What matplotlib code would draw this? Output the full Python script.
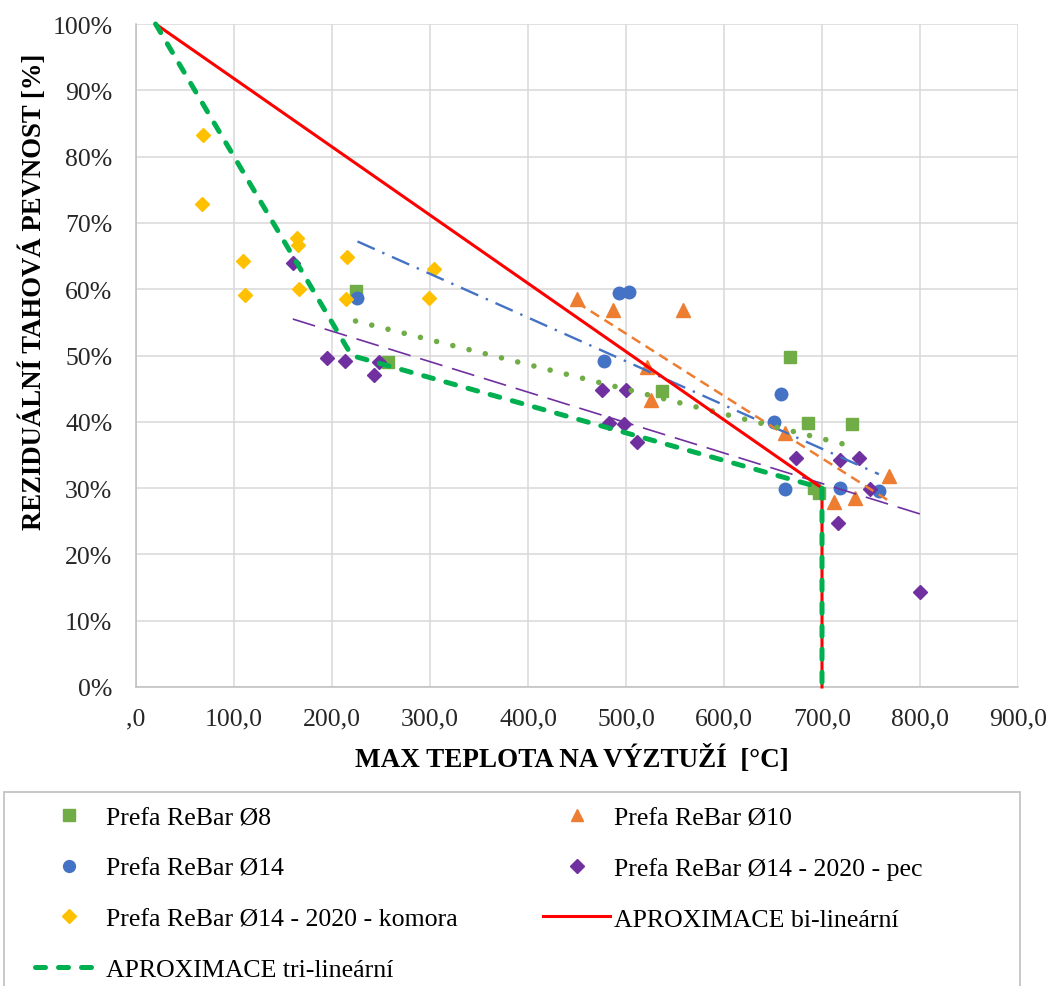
import matplotlib
matplotlib.use("Agg")
import matplotlib.pyplot as plt
from matplotlib.lines import Line2D
from matplotlib.patches import Rectangle

# ---------------- data ----------------
x_ticks = [0, 100, 200, 300, 400, 500, 600, 700, 800, 900]
x_tick_labels = [",0", "100,0", "200,0", "300,0", "400,0", "500,0", "600,0", "700,0", "800,0", "900,0"]
y_ticks = [0, 10, 20, 30, 40, 50, 60, 70, 80, 90, 100]
y_tick_labels = [f"{v}%" for v in y_ticks]

d8_x = [224, 257, 537, 667, 686, 731, 692, 697]
d8_y = [59.7, 49.0, 44.6, 49.7, 39.8, 39.6, 30.0, 29.2]

d10_x = [450, 487, 558, 521, 525, 662, 768, 712, 734]
d10_y = [58.5, 56.9, 56.9, 48.3, 43.3, 38.3, 31.9, 27.9, 28.5]

d14_x = [226, 493, 503, 478, 658, 651, 662, 718, 758]
d14_y = [58.6, 59.5, 59.6, 49.2, 44.2, 39.9, 29.9, 30.0, 29.6]

pec_x = [160, 195, 213, 248, 243, 476, 500, 483, 498, 511, 673, 718, 738, 749, 716, 800]
pec_y = [64.0, 49.6, 49.2, 49.0, 47.0, 44.8, 44.8, 39.8, 39.7, 37.0, 34.5, 34.3, 34.6, 29.9, 24.7, 14.4]

kom_x = [68, 67, 109, 111, 164, 165, 166, 215, 214, 304, 299]
kom_y = [83.3, 72.8, 64.3, 59.1, 67.7, 66.6, 60.1, 64.9, 58.5, 63.1, 58.7]

# linear trend lines (endpoints)
tr14_x, tr14_y = [226, 758], [67.2, 32.1]
tr10_x, tr10_y = [450, 768], [58.0, 28.1]
tr8_x, tr8_y = [224, 731], [55.2, 36.3]
trpec_x, trpec_y = [160, 800], [55.5, 26.1]

# approximations
bi_x, bi_y = [20, 700, 700], [100, 30, 0]
tri_x, tri_y = [20, 220, 700, 700], [100, 50, 30, 0]

labels = ["Prefa ReBar Ø8", "Prefa ReBar Ø10", "Prefa ReBar Ø14",
          "Prefa ReBar Ø14 - 2020 - pec", "Prefa ReBar Ø14 - 2020 - komora",
          "APROXIMACE bi-lineární", "APROXIMACE tri-lineární"]

# ---------------- style ----------------
C8, C10, C14, CPEC, CKOM = "#70AD47", "#ED7D31", "#4472C4", "#7030A0", "#FFC000"
CRED, CTRI = "#FF0000", "#00B050"
SERIF = ["Liberation Serif", "DejaVu Serif"]
plt.rcParams["font.family"] = SERIF

W, H = 1052, 987
fig = plt.figure(figsize=(W / 100, H / 100), dpi=100)
x0, x1, ytop, ybot = 136, 1018, 25, 688
ax = fig.add_axes([x0 / W, 1 - ybot / H, (x1 - x0) / W, (ybot - ytop) / H])

# scatter series
ax.plot(d8_x, d8_y, ls="none", marker="s", ms=8.5, color=C8, zorder=3)
ax.plot(d10_x, d10_y, ls="none", marker="^", ms=10, color=C10, zorder=3)
ax.plot(d14_x, d14_y, ls="none", marker="o", ms=9, color=C14, zorder=3)
ax.plot(pec_x, pec_y, ls="none", marker="D", ms=7.5, color=CPEC, zorder=3)
ax.plot(kom_x, kom_y, ls="none", marker="D", ms=7.5, color=CKOM, zorder=3)

# trend lines
ax.plot(tr14_x, tr14_y, color=C14, lw=1.7, ls=(0, (8, 3.5, 1, 3.5)), zorder=4)
ax.plot(tr10_x, tr10_y, color=C10, lw=1.8, ls=(0, (4, 2.5)), zorder=4)
ax.plot(tr8_x, tr8_y, color=C8, lw=4.0, ls=(0, (0.01, 3.0)), dash_capstyle="round", zorder=4)
ax.plot(trpec_x, trpec_y, color=CPEC, lw=1.2, ls=(0, (14, 6)), zorder=4)

# approximations
ax.plot(bi_x, bi_y, color=CRED, lw=2.2, zorder=5, clip_on=False)
ax.plot(tri_x, tri_y, color=CTRI, lw=3.6, ls=(0, (2, 2.6)), dash_capstyle="round",
        zorder=6, clip_on=False)

ax.set_xlim(0, 900)
ax.set_ylim(0, 100)
ax.set_xticks(x_ticks)
ax.set_xticklabels(x_tick_labels)
ax.set_yticks(y_ticks)
ax.set_yticklabels(y_tick_labels)
ax.tick_params(axis="both", length=0, labelsize=18.5, colors="#262626")
ax.tick_params(axis="y", pad=17)
ax.tick_params(axis="x", pad=15)
ax.grid(True, color="#d9d9d9", lw=1.1)
ax.set_axisbelow(True)
for s in ["top", "right"]:
    ax.spines[s].set_visible(False)
for s in ["left", "bottom"]:
    ax.spines[s].set_color("#bfbfbf")
    ax.spines[s].set_linewidth(1.1)

fig.text(572 / W, 1 - 759 / H, "MAX TEPLOTA NA VÝZTUŽÍ  [°C]", ha="center", va="center",
         fontsize=19.5, fontweight="bold")
fig.text(33 / W, 1 - 292 / H, "REZIDUÁLNÍ TAHOVÁ PEVNOST [%]", ha="center", va="center",
         rotation=90, fontsize=19.3, fontweight="bold")

# legend frame
fig.patches.append(Rectangle((4 / W, -0.05), (1020 - 4) / W, (1 - 793 / H) + 0.05,
                             transform=fig.transFigure, fill=False, edgecolor="#bfbfbf",
                             lw=1.2))

lh8 = Line2D([], [], ls="none", marker="s", ms=8, color=C8)
lh10 = Line2D([], [], ls="none", marker="^", ms=9, color=C10)
lh14 = Line2D([], [], ls="none", marker="o", ms=8.5, color=C14)
lhpec = Line2D([], [], ls="none", marker="D", ms=7, color=CPEC)
lhkom = Line2D([], [], ls="none", marker="D", ms=7, color=CKOM)
lhbi = Line2D([], [], color=CRED, lw=2.2)
lhtri = Line2D([], [], color=CTRI, lw=3.6, ls=(0, (2, 2.6)), dash_capstyle="round")

handles = [lh8, lh14, lhkom, lhtri, lh10, lhpec, lhbi]
labs = [labels[0], labels[2], labels[4], labels[6], labels[1], labels[3], labels[5]]
fig.legend(handles, labs, loc="upper left", bbox_to_anchor=(35 / W, 1 - 807 / H),
           ncol=2, frameon=False, fontsize=18.6, borderpad=0, borderaxespad=0,
           handlelength=2.6, handletextpad=0.15, labelspacing=1.07, columnspacing=3.3)

fig.savefig("out.png", dpi=100)
